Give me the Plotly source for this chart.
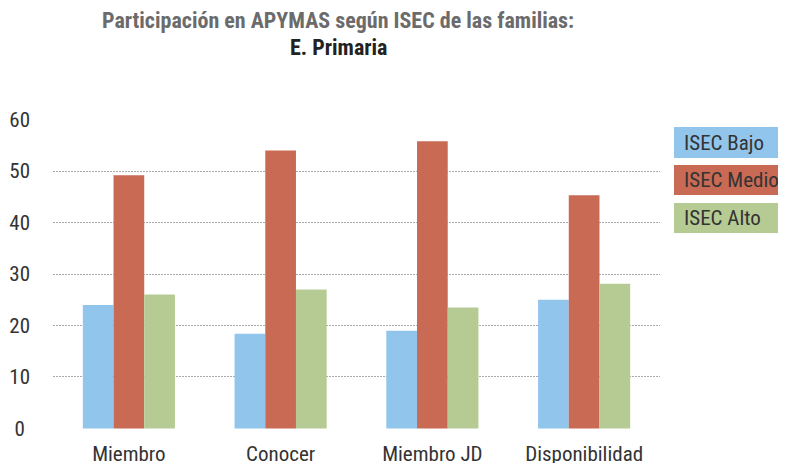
import plotly.graph_objects as go

categories = ["Miembro", "Conocer", "Miembro JD", "Disponibilidad"]
series_names = ["ISEC Bajo", "ISEC Medio", "ISEC Alto"]
isec_bajo = [24.0, 18.4, 19.0, 25.0]
isec_medio = [49.2, 54.0, 55.8, 45.3]
isec_alto = [26.0, 27.0, 23.5, 28.1]
y_ticks = [0, 10, 20, 30, 40, 50, 60]

colors = ["#92C5EB", "#C96A55", "#B6CB93"]
FONT = "Roboto Condensed, Arial Narrow, sans-serif"

# layout geometry (figure px)
L, R, T, B = 45, 134, 111, 42
W, H = 786, 463
PH = H - T - B
PW = W - L - R


def py(fy):
    return 1 - (fy - T) / PH


def px(fx):
    return (fx - L) / PW


fig = go.Figure()
for name, vals, col in zip(series_names, [isec_bajo, isec_medio, isec_alto], colors):
    fig.add_trace(go.Bar(x=categories, y=vals, name=name, marker=dict(color=col, line=dict(width=0)),
                         showlegend=False))

# legend boxes
boxes = [(119, 150), (157, 187), (195, 225)]
for name, col, (y0, y1) in zip(series_names, colors, boxes):
    fig.add_shape(type="rect", xref="paper", yref="paper", x0=px(666), x1=px(790), y0=py(y1), y1=py(y0),
                  fillcolor=col, line=dict(width=0), layer="above")
    fig.add_annotation(xref="paper", yref="paper", x=px(674), y=py((y0 + y1) / 2), xanchor="left",
                       yanchor="middle", text=name, showarrow=False,
                       font=dict(family=FONT, size=21, color="#333333"))

# title
fig.add_annotation(xref="paper", yref="paper", x=px(330), y=py(13), xanchor="center", yanchor="middle",
                   text="<b>Participación en APYMAS según ISEC de las familias:</b>", showarrow=False,
                   font=dict(family=FONT, size=22, color="#6b6b6b"), borderpad=0)
fig.add_annotation(xref="paper", yref="paper", x=px(330), y=py(39), xanchor="center", yanchor="middle",
                   text="<b>E. Primaria</b>", showarrow=False,
                   font=dict(family=FONT, size=22, color="#222222"), borderpad=0)

fig.update_layout(
    width=W, height=H,
    margin=dict(l=L, r=R, t=T, b=B, autoexpand=False),
    paper_bgcolor="white", plot_bgcolor="white",
    barmode="group", bargap=0.393, bargroupgap=0,
    font=dict(family=FONT, size=21, color="#333333"),
    yaxis=dict(range=[-0.1, 60.1], tickvals=y_ticks, ticktext=[str(v) if v else "0\u2008" for v in y_ticks],
               showgrid=True, gridcolor="#ababab", griddash="2px,1px", gridwidth=1,
               zeroline=False, showline=False, ticks="", ticklabelstandoff=22, automargin=False,
               tickfont=dict(family=FONT, size=21, color="#333333")),
    xaxis=dict(showgrid=False, showline=False, ticks="", ticklabelstandoff=10, automargin=False,
               tickfont=dict(family=FONT, size=21, color="#333333")),
)

fig.write_html("out.html")
